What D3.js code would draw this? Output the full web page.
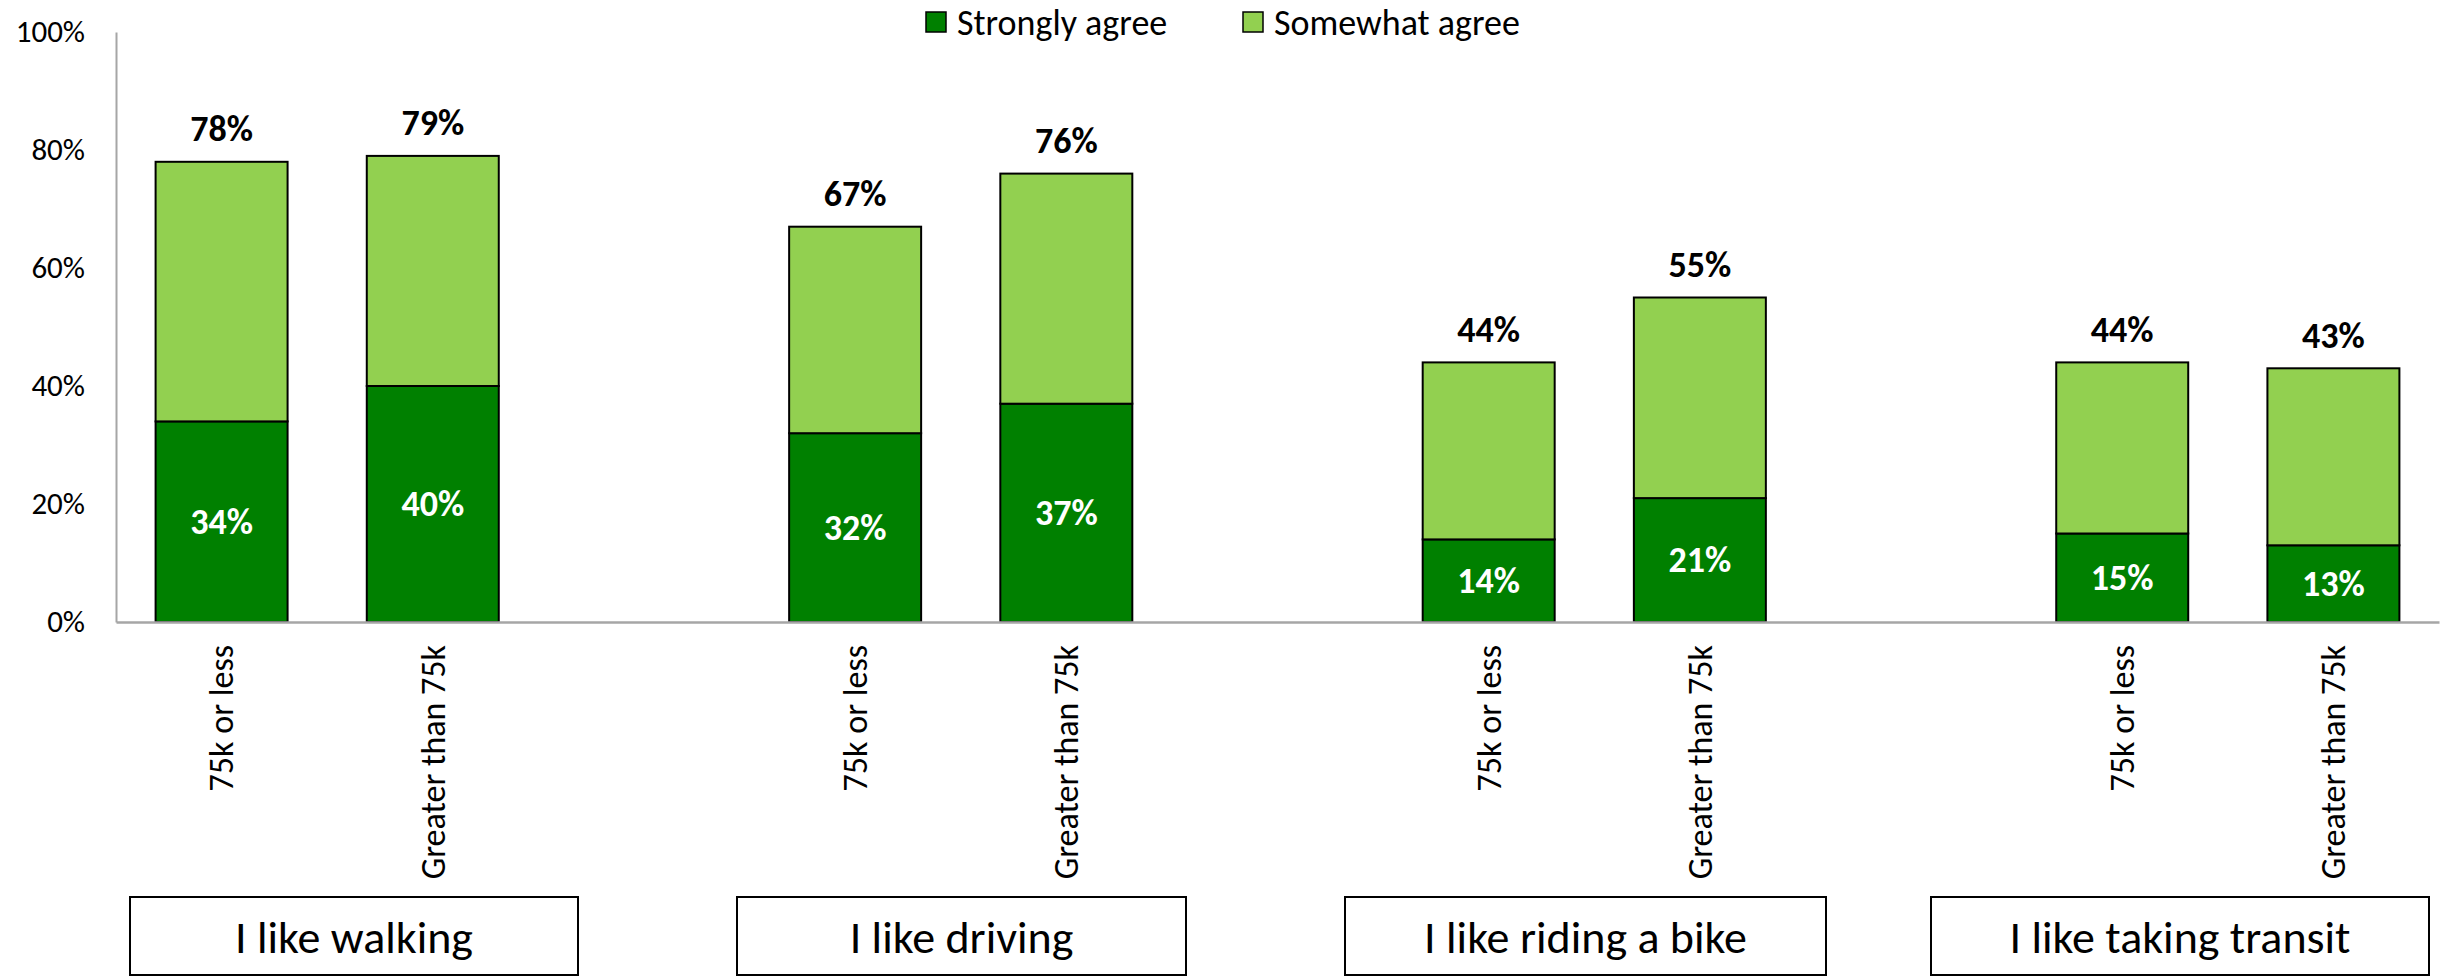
<!DOCTYPE html>
<html>
<head>
<meta charset="utf-8">
<script src="https://cdn.jsdelivr.net/npm/d3@7"></script>
<style>
  html, body { margin: 0; padding: 0; background: #fff; }
  svg { display: block; }
  text { font-family: Carlito, Lato, "Open Sans", sans-serif; }
</style>
</head>
<body>
<svg id="chart" width="2451" height="976"></svg>
<script>
// ---- data ----
const groups = ["I like walking", "I like driving", "I like riding a bike", "I like taking transit"];
const incomes = ["75k or less", "Greater than 75k"];
const seriesNames = ["Strongly agree", "Somewhat agree"];
// order: group0-inc0, group0-inc1, group1-inc0, ...
const stronglyAgree = [34, 40, 32, 37, 14, 21, 15, 13];
const somewhatAgree = [44, 39, 35, 39, 30, 34, 29, 30];
const totals = [78, 79, 67, 76, 44, 55, 44, 43];
const yTicks = [0, 20, 40, 60, 80, 100];

// ---- layout ----
const colors = ["#008000", "#92D050"];
const svg = d3.select("#chart");
const plot = { left: 116, right: 2439, top: 32, bottom: 622 };

// slots: two bars per group, blank slot between groups
const slots = [];
const bars = [];
groups.forEach((g, gi) => {
  incomes.forEach((inc, ii) => {
    const k = gi * 2 + ii;
    const key = "s" + gi + "-" + ii;
    slots.push(key);
    bars.push({ key, group: g, income: inc, strong: stronglyAgree[k], some: somewhatAgree[k], total: totals[k] });
  });
  if (gi < groups.length - 1) slots.push("gap" + gi);
});
const labelOf = {};
bars.forEach(b => labelOf[b.key] = b.income);

const x = d3.scaleBand().domain(slots).range([plot.left, plot.right])
  .paddingInner(0.375).paddingOuter(0.1875);
const y = d3.scaleLinear().domain([0, 100]).range([plot.bottom, plot.top]);

// stacked bars
const stackData = bars.map(b => ({ key: b.key, "Strongly agree": b.strong, "Somewhat agree": b.some }));
const stacked = d3.stack().keys(seriesNames)(stackData);

svg.append("g").selectAll("g").data(stacked).join("g")
  .attr("fill", (d, i) => colors[i])
  .selectAll("rect").data(d => d).join("rect")
  .attr("x", d => x(d.data.key))
  .attr("width", x.bandwidth())
  .attr("y", d => y(d[1]))
  .attr("height", d => y(d[0]) - y(d[1]))
  .attr("stroke", "#000")
  .attr("stroke-width", 2);

// inside labels (strongly agree)
svg.append("g").selectAll("text").data(bars).join("text")
  .attr("x", d => x(d.key) + x.bandwidth() / 2)
  .attr("y", d => (y(0) + y(d.strong)) / 2)
  .attr("dy", "0.34em")
  .attr("text-anchor", "middle")
  .attr("fill", "#fff")
  .attr("font-weight", "bold")
  .attr("font-size", 36)
  .text(d => d.strong + "%");

// total labels
svg.append("g").selectAll("text").data(bars).join("text")
  .attr("x", d => x(d.key) + x.bandwidth() / 2)
  .attr("y", d => y(d.total) - 33)
  .attr("dy", "0.34em")
  .attr("text-anchor", "middle")
  .attr("fill", "#000")
  .attr("font-weight", "bold")
  .attr("font-size", 36)
  .text(d => d.total + "%");

// y axis
const yAxis = svg.append("g")
  .attr("transform", `translate(${plot.left},0)`)
  .call(d3.axisLeft(y).tickValues(yTicks).tickFormat(d => d + "%").tickSize(0).tickPadding(31));
yAxis.select(".domain").attr("stroke", "#a6a6a6").attr("stroke-width", 2);
yAxis.selectAll("text").attr("font-size", 31).attr("fill", "#000")
  .style("font-family", "Carlito, Lato, sans-serif");

// x axis
const xAxis = svg.append("g")
  .attr("transform", `translate(0,${plot.bottom})`)
  .call(d3.axisBottom(x).tickSize(0).tickFormat(k => labelOf[k] || ""));
xAxis.select(".domain").attr("stroke", "#a6a6a6").attr("stroke-width", 2.5);
xAxis.selectAll("text")
  .attr("transform", "rotate(-90)")
  .attr("x", -23).attr("y", 0).attr("dy", "0.35em")
  .attr("text-anchor", "end")
  .attr("font-size", 34).attr("fill", "#000")
  .style("font-family", "Carlito, Lato, sans-serif");

// group boxes
const boxes = [[130, 578], [737, 1186], [1345, 1826], [1931, 2429]];
const boxG = svg.append("g").selectAll("g").data(groups).join("g");
boxG.append("rect")
  .attr("x", (d, i) => boxes[i][0]).attr("width", (d, i) => boxes[i][1] - boxes[i][0])
  .attr("y", 897).attr("height", 78)
  .attr("fill", "#fff").attr("stroke", "#000").attr("stroke-width", 2);
boxG.append("text")
  .attr("x", (d, i) => (boxes[i][0] + boxes[i][1]) / 2)
  .attr("y", 953)
  .attr("text-anchor", "middle")
  .attr("font-size", 46).attr("fill", "#000")
  .text(d => d);

// legend
const legendPos = [926, 1243];
const lg = svg.append("g").selectAll("g").data(seriesNames).join("g")
  .attr("transform", (d, i) => `translate(${legendPos[i]},12)`);
lg.append("rect").attr("width", 20).attr("height", 20)
  .attr("fill", (d, i) => colors[i]).attr("stroke", "#000").attr("stroke-width", 1.5);
lg.append("text").attr("x", 31).attr("y", 35)
  .attr("font-size", 36).attr("fill", "#000").text(d => d)
  .attr("transform", "translate(0,-12)");
</script>
</body>
</html>
